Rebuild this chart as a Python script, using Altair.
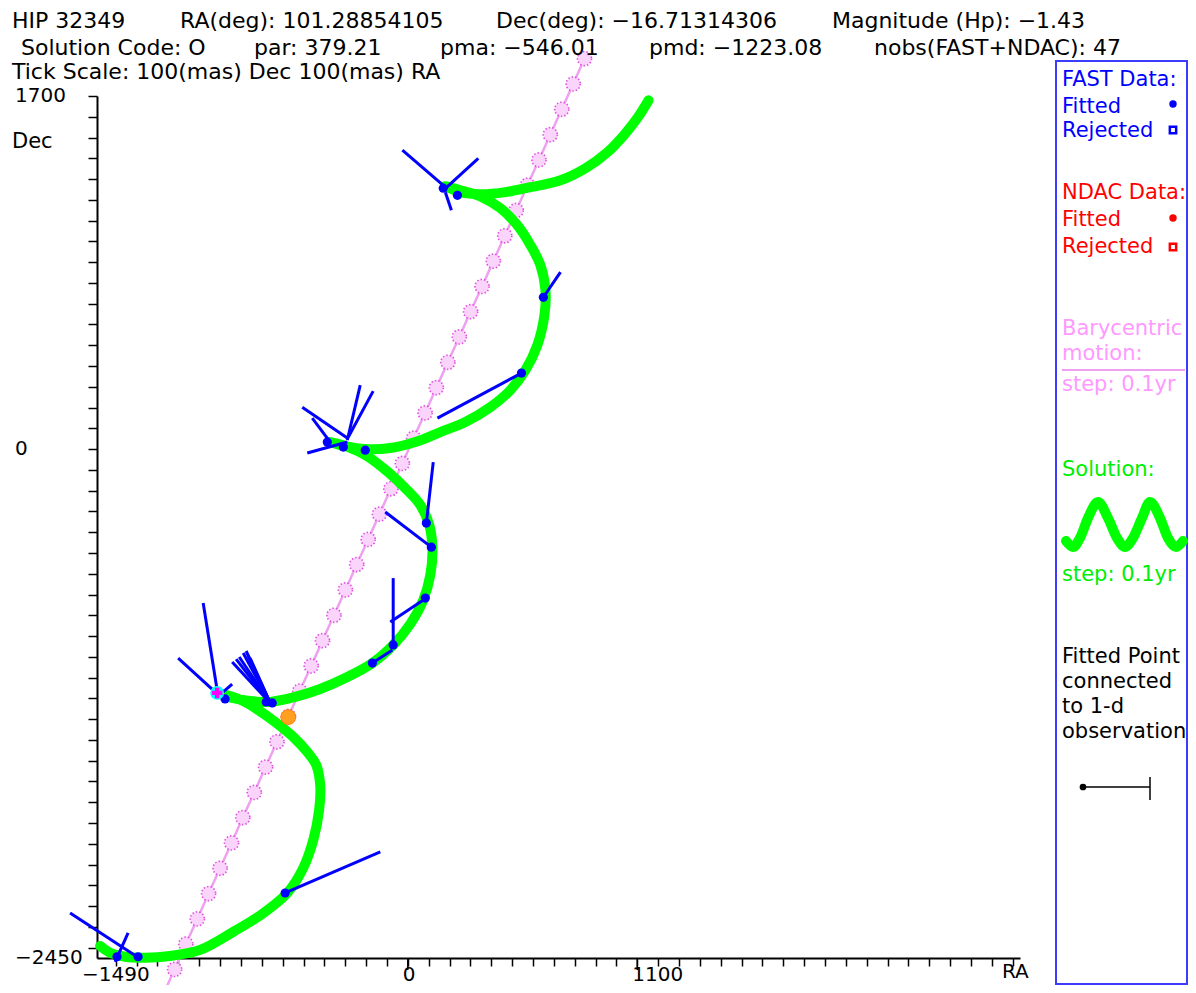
import altair as alt
import pandas as pd

FONT = "DejaVu Sans"
W, H = 923, 862          # plot area (axis box)
PX0, PY0 = 97, 96        # page position of plot origin (used for annotations)
TOTAL_W, TOTAL_H = 1180, 977

# ---------------- data (mas) ----------------
x_domain = [-1490, 2935]
y_domain = [-2450, 1700]
x_label_values = [0, 1100]
x_label_first = [-1490]
y_label_values = [1700, 0, -2450]
x_tick_values = list(range(-1400, 3000, 100))
y_tick_values = list(range(-2400, 1800, 100))

# barycentric motion, step 0.1 yr
bary_ra = [-1173, -1118, -1064, -1009, -955, -900, -845, -791, -736, -682, -627, -572, -518,
           -463, -409, -354, -299, -245, -190, -136, -81, -26, 28, 83, 137, 192, 247, 301,
           356, 410, 465, 520, 574, 629, 683, 738, 793, 847]
bary_dec = [-2627, -2505, -2383, -2262, -2140, -2018, -1896, -1774, -1653, -1531, -1409, -1287,
            -1165, -1044, -922, -800, -678, -556, -435, -313, -191, -69, 53, 174, 296, 418,
            540, 662, 783, 905, 1027, 1149, 1271, 1392, 1514, 1636, 1758, 1880]

# solution path, step 0.1 yr
sol_ra = [-1475, -1427, -1355, -1259, -1140, -996, -837, -698, -578, -501, -453, -425, -420,
          -439, -482, -549, -636, -717, -789, -852, -895, -842, -756, -660, -540, -420, -300,
          -170, -70, 12, 74, 108, 118, 103, 60, -12, -94, -194, -285, -372, -300, -204, -84,
          36, 156, 276, 396, 492, 564, 621, 655, 660, 636, 588, 525, 444, 348, 252, 180, 252,
          348, 468, 588, 732, 852, 957, 1044, 1106, 1154]
sol_dec = [-2392, -2425, -2444, -2449, -2440, -2411, -2324, -2238, -2137, -2016, -1881, -1737,
           -1617, -1521, -1458, -1386, -1314, -1256, -1213, -1189, -1179, -1198, -1213, -1217,
           -1193, -1155, -1102, -1030, -943, -842, -727, -606, -476, -366, -269, -188, -111,
           -34, 10, 34, 14, 0, 5, 34, 82, 130, 202, 284, 380, 500, 645, 765, 885, 982, 1078,
           1160, 1217, 1246, 1266, 1237, 1227, 1237, 1261, 1294, 1352, 1429, 1521, 1602, 1679]

# FAST fitted points
fast_ra = [-1394, -1293, -588, -876, -679, -650, -170, -70, 84, 113, 89, -386, -309, -204,
           545, 650, 170, 238]
fast_dec = [-2444, -2444, -2137, -1203, -1217, -1222, -1030, -943, -717, -472, -356, 34, 10,
            -5, 366, 731, 1256, 1222]

# connections fitted point <-> 1-d observation
seg_ra1 = [-1619, -1341, -588, -981, -1101, -885, -660, -660, -660, -660, -660, -660, -660,
           -170, -70, -84, -108, 122, -506, -458, -228, -166, -482, 142, 650, -26, 338, 180]
seg_dec1 = [-2233, -2329, -2137, -741, -1006, -1169, -1222, -1222, -1222, -1222, -1222, -1222,
            -1222, -1030, -943, -832, -303, -63, 202, 149, 308, 279, -19, 149, 731, 1439, 1400,
            1237]
seg_ra2 = [-1298, -1403, -132, -914, -924, -842, -842, -823, -808, -789, -775, -765, -756,
           -74, -70, 89, 113, 89, -290, -372, -290, -285, -290, 545, 732, 180, 170, 209]
seg_dec2 = [-2444, -2469, -1939, -1160, -1169, -1131, -1025, -1011, -1001, -982, -972, -996,
            -1006, -967, -621, -717, -472, -356, 53, 34, 43, 58, 34, 366, 852, 1261, 1246, 1150]

star_ra, star_dec = [-914], [-1174]
ref_ra, ref_dec = [-573], [-1290]

# legend glyph for the solution (pixel shape of the little wave)
wave_px = [1066, 1073, 1080, 1088, 1098, 1108, 1117, 1125, 1133, 1142, 1150, 1160, 1168, 1176, 1183]
wave_py = [541, 547, 538, 518, 502, 518, 538, 547, 538, 518, 502, 518, 538, 547, 541]

# ---------------- scales / axes ----------------
XS = alt.Scale(domain=x_domain, nice=False, zero=False)
YS = alt.Scale(domain=y_domain, nice=False, zero=False)
XA = alt.Axis(values=x_tick_values, labels=False, title=None, grid=False, tickSize=8,
              tickWidth=1.5, tickColor="black", domainColor="black", domainWidth=2)
YA = alt.Axis(values=y_tick_values, labels=False, title=None, grid=False, tickSize=9,
              tickWidth=1.5, tickColor="black", domainColor="black", domainWidth=2)


def X(f):
    return alt.X(f, type="quantitative", scale=XS, axis=XA)


def Y(f):
    return alt.Y(f, type="quantitative", scale=YS, axis=YA)


bary_df = pd.DataFrame({"ra": bary_ra, "dec": bary_dec, "i": range(len(bary_ra))})
sol_df = pd.DataFrame({"ra": sol_ra, "dec": sol_dec, "i": range(len(sol_ra))})
fast_df = pd.DataFrame({"ra": fast_ra, "dec": fast_dec})
seg_df = pd.DataFrame({"ra": seg_ra1, "dec": seg_dec1, "ra2": seg_ra2, "dec2": seg_dec2})
wave_df = pd.DataFrame({"px": [p - PX0 for p in wave_px], "py": [p - PY0 for p in wave_py],
                        "i": range(len(wave_px))})

layers = []

bary_line = alt.Chart(bary_df).mark_line(color="#f0a0f0", strokeWidth=2.5).encode(
    x=X("ra"), y=Y("dec"), order="i:Q")
bary_pts = alt.Chart(bary_df).mark_point(shape="circle", size=200, filled=True,
                                         fill="#fbd4fb", stroke="#e050e0", strokeWidth=1.6,
                                         strokeDash=[1.5, 2], opacity=1).encode(
    x=X("ra"), y=Y("dec"))
sol_line = alt.Chart(sol_df).mark_line(color="#00ff00", strokeWidth=10, strokeCap="round",
                                       strokeJoin="round", interpolate="catmull-rom").encode(
    x=X("ra"), y=Y("dec"), order="i:Q")
segs = alt.Chart(seg_df).mark_rule(color="#0000ff", strokeWidth=3).encode(
    x=X("ra"), y=Y("dec"), x2="ra2:Q", y2="dec2:Q")
dots = alt.Chart(fast_df).mark_circle(color="#0000ff", size=85, opacity=1).encode(
    x=X("ra"), y=Y("dec"))
cyan = alt.Chart(pd.DataFrame({"ra": star_ra, "dec": star_dec})).mark_circle(
    color="#00ffff", size=190, opacity=1).encode(x=X("ra"), y=Y("dec"))
star = alt.Chart(pd.DataFrame({"ra": star_ra, "dec": star_dec})).mark_point(
    shape="cross", size=110, filled=True, color="#ff00ff", opacity=1).encode(
    x=X("ra"), y=Y("dec"))
ref = alt.Chart(pd.DataFrame({"ra": ref_ra, "dec": ref_dec})).mark_circle(
    color="#ffa020", size=220, opacity=1, stroke="#ff8000", strokeWidth=1).encode(
    x=X("ra"), y=Y("dec"))

long_ticks = alt.Chart(pd.DataFrame({"v": x_label_values})).mark_rule(
    color="black", strokeWidth=1.5).encode(x=X("v"), y=alt.value(H), y2=alt.value(H + 12))
xlab = alt.Chart(pd.DataFrame({"v": x_label_values})).mark_text(
    align="left", baseline="middle", dx=-5, font=FONT, fontSize=20, color="black").encode(
    x=X("v"), y=alt.value(975 - PY0), text=alt.Text("v:Q", format="d"))
xlab0 = alt.Chart(pd.DataFrame({"v": x_label_first})).mark_text(
    align="left", baseline="middle", dx=-15, font=FONT, fontSize=20, color="black").encode(
    x=X("v"), y=alt.value(975 - PY0), text=alt.Text("v:Q", format="d"))
ylab = alt.Chart(pd.DataFrame({"v": y_label_values})).mark_text(
    align="left", baseline="middle", font=FONT, fontSize=20, color="black").encode(
    x=alt.value(15 - PX0), y=Y("v"), text=alt.Text("v:Q", format="d"))

layers += [bary_line, bary_pts, sol_line, segs, dots, cyan, star, ref, long_ticks, xlab, xlab0, ylab]

ONE = alt.Data(values=[{"a": 1}])


def txt(s, x, y, color="black", size=22):
    return alt.Chart(ONE).mark_text(text=s, align="left", baseline="alphabetic", font=FONT,
                                    fontSize=size, color=color).encode(
        x=alt.value(x - PX0), y=alt.value(y - PY0))


# header
R1 = 28
layers += [
    txt("HIP 32349", 12, R1), txt("RA(deg): 101.28854105", 180, R1),
    txt("Dec(deg): \u221216.71314306", 496, R1), txt("Magnitude (Hp): \u22121.43", 832, R1),
    txt("Solution Code: O", 21, 55), txt("par: 379.21", 254, 55),
    txt("pma: \u2212546.01", 440, 55), txt("pmd: \u22121223.08", 649, 55),
    txt("nobs(FAST+NDAC): 47", 874, 55),
    txt("Tick Scale: 100(mas) Dec 100(mas) RA", 12, 79),
    txt("Dec", 12, 148, size=21), txt("RA", 1002, 978, size=20),
]

BLUE, RED, PINK, GREEN = "#0000ff", "#ff0000", "#ff99ff", "#00ee00"
LS = 21
box = alt.Chart(ONE).mark_rect(fill="white", fillOpacity=0, stroke="#3c3cff", strokeWidth=2).encode(
    x=alt.value(1056 - PX0), x2=alt.value(1187 - PX0), y=alt.value(61 - PY0), y2=alt.value(984 - PY0))
layers.append(box)
layers += [
    txt("FAST Data:", 1062, 86, BLUE, LS), txt("Fitted", 1062, 113, BLUE, LS),
    txt("Rejected", 1062, 137, BLUE, LS),
    txt("NDAC Data:", 1062, 199, RED, LS), txt("Fitted", 1062, 226, RED, LS),
    txt("Rejected", 1062, 253, RED, LS),
    txt("Barycentric", 1062, 335, PINK, LS), txt("motion:", 1062, 360, PINK, LS),
    txt("step: 0.1yr", 1062, 391, PINK, LS),
    txt("Solution:", 1062, 476, GREEN, LS), txt("step: 0.1yr", 1062, 581, GREEN, LS),
    txt("Fitted Point", 1062, 663, "black", LS), txt("connected", 1062, 688, "black", LS),
    txt("to 1-d", 1062, 713, "black", LS), txt("observation", 1062, 738, "black", LS),
]


def marker(x, y, color, shape, filled, size):
    return alt.Chart(ONE).mark_point(shape=shape, filled=filled, color=color, size=size,
                                     opacity=1, strokeWidth=2.5).encode(
        x=alt.value(x - PX0), y=alt.value(y - PY0))


layers += [
    marker(1173, 104, BLUE, "circle", True, 55), marker(1173, 130, BLUE, "square", False, 40),
    marker(1173, 218, RED, "circle", True, 55), marker(1173, 247, RED, "square", False, 40),
]
layers.append(alt.Chart(ONE).mark_rule(color="#f0a0f0", strokeWidth=2).encode(
    x=alt.value(1062 - PX0), x2=alt.value(1185 - PX0), y=alt.value(370 - PY0)))
layers.append(alt.Chart(wave_df).mark_line(color="#00ff00", strokeWidth=10, strokeCap="round",
                                           interpolate="monotone").encode(
    x=alt.X("px:Q", scale=None), y=alt.Y("py:Q", scale=None), order="i:Q"))
layers.append(alt.Chart(ONE).mark_rule(color="black", strokeWidth=1.5).encode(
    x=alt.value(1083 - PX0), x2=alt.value(1150 - PX0), y=alt.value(787 - PY0)))
layers.append(alt.Chart(ONE).mark_rule(color="black", strokeWidth=1.5).encode(
    x=alt.value(1150 - PX0), y=alt.value(777 - PY0), y2=alt.value(800 - PY0)))
layers.append(marker(1083, 787, "black", "circle", True, 45))

chart = alt.layer(*layers).properties(
    width=W, height=H,
    padding={"left": PX0 - 8, "top": PY0 - 8, "right": TOTAL_W - (PX0 - 8) - W,
             "bottom": TOTAL_H - (PY0 - 8) - H},
    autosize=alt.AutoSizeParams(type="none"),
).configure_view(stroke=None)

chart.save("out.html", embed_options={"renderer": "svg", "actions": False})
